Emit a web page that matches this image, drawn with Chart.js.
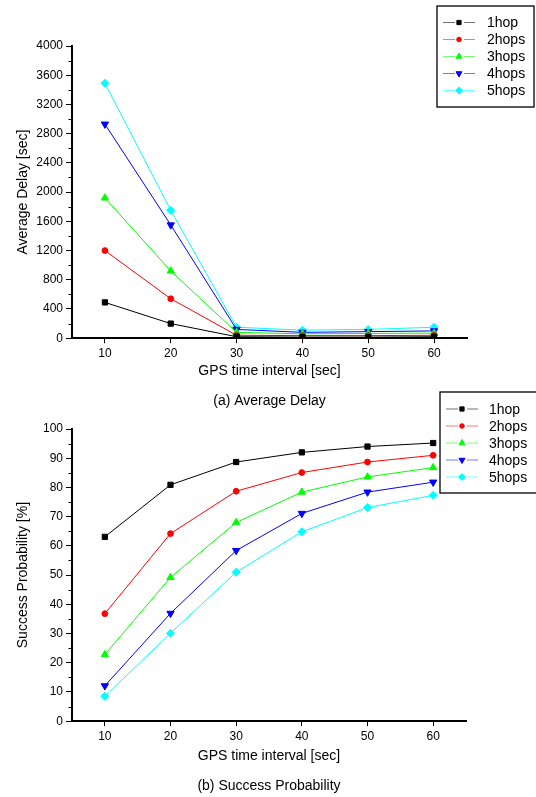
<!DOCTYPE html>
<html lang="en">
<head>
<meta charset="UTF-8">
<title>GPS time interval - delay and success</title>
<script src="https://cdn.jsdelivr.net/npm/chart.js@4"></script>
<style>
    html, body { margin: 0; padding: 0; background: #fff; }
    #wrap { position: relative; width: 536px; height: 797px; overflow: hidden; }
    #wrap canvas { position: absolute; left: 0; }
    #delayChart { top: 0; }
    #successChart { top: 380px; }
</style>
</head>
<body>
<div id="wrap">
    <canvas id="delayChart" width="536" height="410" style="width:536px;height:410px"></canvas>
    <canvas id="successChart" width="536" height="417" style="width:536px;height:417px"></canvas>
</div>

<script>
    // data
    const gpsInterval = [10, 20, 30, 40, 50, 60];
    const hopLabels = ['1hop', '2hops', '3hops', '4hops', '5hops'];

    const delay1hop = [490, 200, 20, 15, 15, 20];
    const delay2hops = [1200, 540, 40, 35, 35, 40];
    const delay3hops = [1920, 920, 80, 60, 65, 70];
    const delay4hops = [2930, 1550, 120, 80, 90, 100];
    const delay5hops = [3490, 1750, 150, 110, 120, 150];

    const success1hop = [63.1, 80.9, 88.7, 92.0, 94.0, 95.2];
    const success2hops = [36.8, 64.2, 78.7, 85.1, 88.7, 91.0];
    const success3hops = [22.8, 49.2, 68.0, 78.4, 83.6, 86.8];
    const success4hops = [12.1, 36.9, 58.4, 71.1, 78.4, 81.8];
    const success5hops = [8.5, 30.1, 51.0, 64.8, 73.1, 77.3];

    const xTicks = [10, 20, 30, 40, 50, 60];
    const delayTicks = [0, 400, 800, 1200, 1600, 2000, 2400, 2800, 3200, 3600, 4000];
    const successTicks = [0, 10, 20, 30, 40, 50, 60, 70, 80, 90, 100];

    // look of each series: colour, marker, marker size
    const seriesStyle = [
        { color: '#000000', point: 'rect', rotation: 0, radius: 3.7, legendRadius: 3 },
        { color: '#ff0000', point: 'circle', rotation: 0, radius: 2.9, legendRadius: 2.3 },
        { color: '#00ff00', point: 'triangle', rotation: 0, radius: 4.2, legendRadius: 3.5 },
        { color: '#0000ff', point: 'triangle', rotation: 180, radius: 4.2, legendRadius: 3.5 },
        { color: '#00ffff', point: 'rectRot', rotation: 0, radius: 4, legendRadius: 3.5 }
    ];

    Chart.defaults.font.family = '"Liberation Sans", Arial, sans-serif';
    Chart.defaults.color = '#000';

    // short minor ticks halfway between the labelled ones on the y axis
    const minorTicks = {
        id: 'minorTicks',
        afterDraw(chart, args, opts) {
            const s = chart.scales.y;
            const ctx = chart.ctx;
            ctx.save();
            ctx.strokeStyle = '#000';
            ctx.lineWidth = 1;
            ctx.beginPath();
            for (let i = 0; i < opts.ticks.length - 1; i++) {
                const v = (opts.ticks[i] + opts.ticks[i + 1]) / 2;
                const py = Math.round(s.getPixelForValue(v)) + 0.5;
                ctx.moveTo(s.right - 3.5, py);
                ctx.lineTo(s.right, py);
            }
            ctx.stroke();
            ctx.restore();
        }
    };

    // boxed legend drawn where the original has it
    const boxLegend = {
        id: 'boxLegend',
        afterDraw(chart, args, opts) {
            const ctx = chart.ctx;
            ctx.save();
            ctx.strokeStyle = '#000';
            ctx.lineWidth = 1.3;
            ctx.strokeRect(opts.x, opts.y, opts.w, opts.h);
            ctx.font = '14px "Liberation Sans", Arial, sans-serif';
            ctx.textBaseline = 'middle';
            chart.data.datasets.forEach((ds, i) => {
                const st = seriesStyle[i];
                const y = opts.y + opts.first + i * opts.gap;
                const cx = opts.x + 22;
                ctx.strokeStyle = st.color;
                ctx.lineWidth = 1;
                ctx.globalAlpha = 0.55;
                ctx.beginPath();
                ctx.moveTo(opts.x + 6, y);
                ctx.lineTo(cx - 4, y);
                ctx.moveTo(cx + 5, y);
                ctx.lineTo(opts.x + 38, y);
                ctx.stroke();
                ctx.globalAlpha = 1;
                ctx.fillStyle = st.color;
                Chart.helpers.drawPoint(ctx, {
                    pointStyle: st.point,
                    rotation: st.rotation,
                    radius: st.legendRadius,
                    borderWidth: 1
                }, cx, y);
                ctx.fillStyle = '#000';
                ctx.fillText(ds.label, opts.x + opts.textX, y + 1);
            });
            ctx.restore();
        }
    };

    function makeDatasets(series) {
        return series.map((values, i) => {
            const st = seriesStyle[i];
            return {
                label: hopLabels[i],
                data: values.map((v, j) => ({ x: gpsInterval[j], y: v })),
                borderColor: st.color,
                backgroundColor: st.color,
                borderWidth: 1,
                tension: 0,
                pointStyle: st.point,
                pointRotation: st.rotation,
                pointRadius: st.radius,
                pointBackgroundColor: st.color,
                pointBorderColor: st.color,
                pointBorderWidth: 1
            };
        });
    }

    function makeChart(canvasId, series, cfg) {
        return new Chart(document.getElementById(canvasId), {
            type: 'line',
            data: { datasets: makeDatasets(series) },
            options: {
                responsive: false,
                animation: false,
                layout: { padding: cfg.padding },
                scales: {
                    x: {
                        type: 'linear',
                        min: 5,
                        max: 65,
                        afterBuildTicks: s => { s.ticks = xTicks.map(v => ({ value: v })); },
                        afterFit: s => { s.height = cfg.xAxisHeight; },
                        grid: { drawOnChartArea: false, tickLength: 5, color: '#000', tickWidth: 1 },
                        border: { color: '#000', width: 2 },
                        ticks: { font: { size: 12 }, padding: 3, maxRotation: 0, callback: v => String(v) },
                        title: { display: true, text: 'GPS time interval [sec]', font: { size: 14 }, padding: 0 }
                    },
                    y: {
                        type: 'linear',
                        min: cfg.yTicks[0],
                        max: cfg.yTicks[cfg.yTicks.length - 1],
                        afterBuildTicks: s => { s.ticks = cfg.yTicks.map(v => ({ value: v })); },
                        afterFit: s => { s.width = 72; },
                        grid: { drawOnChartArea: false, tickLength: 6, color: '#000', tickWidth: 1 },
                        border: { color: '#000', width: 2 },
                        ticks: { autoSkip: false, font: { size: 12 }, padding: 3, callback: v => String(v) },
                        title: { display: true, text: cfg.yTitle, font: { size: 14 }, padding: { top: 15 } }
                    }
                },
                plugins: {
                    legend: { display: false },
                    tooltip: { enabled: false },
                    title: {
                        display: true,
                        position: 'bottom',
                        fullSize: false,
                        text: cfg.caption,
                        color: '#000',
                        font: { size: 14, weight: 'normal' },
                        padding: cfg.captionPadding
                    },
                    minorTicks: { ticks: cfg.yTicks },
                    boxLegend: cfg.legend
                }
            },
            plugins: [minorTicks, boxLegend]
        });
    }

    makeChart('delayChart', [delay1hop, delay2hops, delay3hops, delay4hops, delay5hops], {
        padding: { top: 46, right: 69, left: 0, bottom: 0 },
        xAxisHeight: 41,
        yTicks: delayTicks,
        yTitle: 'Average Delay [sec]',
        caption: '(a) Average Delay',
        captionPadding: { top: 14, bottom: 0 },
        legend: { x: 437, y: 6, w: 97, h: 101, first: 16.5, gap: 17, textX: 50 }
    });

    makeChart('successChart', [success1hop, success2hops, success3hops, success4hops, success5hops], {
        padding: { top: 49, right: 70, left: 0, bottom: 0 },
        xAxisHeight: 43,
        yTicks: successTicks,
        yTitle: 'Success Probability [%]',
        caption: '(b) Success Probability',
        captionPadding: { top: 14, bottom: 2 },
        legend: { x: 440, y: 12, w: 100, h: 101, first: 17, gap: 17, textX: 49 }
    });
</script>
</body>
</html>
